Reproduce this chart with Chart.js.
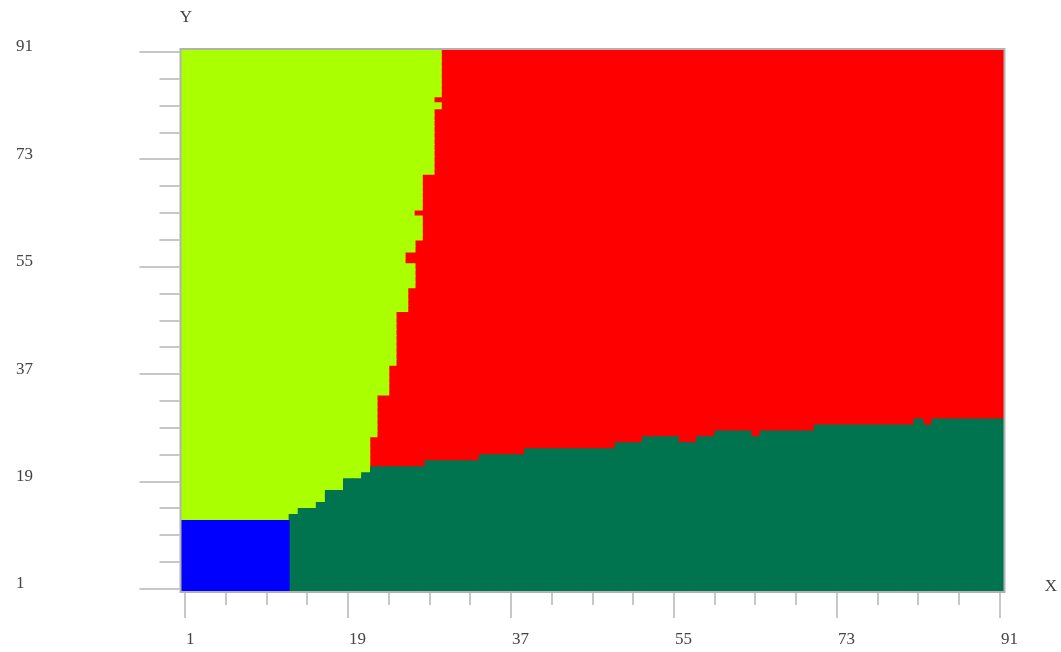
<!DOCTYPE html>
<html>
<head>
<meta charset="utf-8">
<script src="https://cdn.jsdelivr.net/npm/chart.js@4/dist/chart.umd.min.js"></script>
<style>
    html, body { margin: 0; padding: 0; background: #fff; }
    #chart-container { width: 1061px; height: 652px; }
</style>
</head>
<body>
<div id="chart-container"><canvas id="myChart" width="1061" height="652"></canvas></div>
<script>
const gridMax = 91;
const xTickLabels = [1, 19, 37, 55, 73, 91];
const yTickLabels = [1, 19, 37, 55, 73, 91];
const minorStep = 4.5;

// blue block in the corner: columns 1..12, rows 1..12
const blueColumns = [1, 2, 3, 4, 5, 6, 7, 8, 9, 10, 11, 12];
const blueTop = 12;

// top row of the dark green area for columns 13..91
const greenColumns = [];
for (let c = 13; c <= 91; c++) greenColumns.push(c);
const greenTop = [
    13, 14, 14, 15, 17, 17, 19, 19, 20,
    21, 21, 21, 21, 21, 21,
    22, 22, 22, 22, 22, 22,
    23, 23, 23, 23, 23,
    24, 24, 24, 24, 24, 24, 24, 24, 24, 24,
    25, 25, 25,
    26, 26, 26, 26,
    25, 25,
    26, 26,
    27, 27, 27, 27,
    26,
    27, 27, 27, 27, 27, 27,
    28, 28, 28, 28, 28, 28, 28, 28, 28, 28, 28,
    29,
    28,
    29, 29, 29, 29, 29, 29, 29, 29
];

// right edge of the light green area for rows 13..91
const limeRows = [];
for (let r = 13; r <= 91; r++) limeRows.push(r);
const limeEdge = [
    21.4, 21.4, 21.4, 21.4, 21.4, 21.4, 21.4, 21.4, 21.4, 21.4, 21.4, 21.4, 21.4, 21.4,
    22.2, 22.2, 22.2, 22.2, 22.2, 22.2, 22.2,
    23.5, 23.5, 23.5, 23.5, 23.5,
    24.3, 24.3, 24.3, 24.3, 24.3, 24.3, 24.3, 24.3, 24.3,
    25.6, 25.6, 25.6, 25.6,
    26.4, 26.4, 26.4, 26.4,
    25.3, 25.3,
    26.4, 26.4,
    27.2, 27.2, 27.2, 27.2,
    26.3,
    27.2, 27.2, 27.2, 27.2, 27.2, 27.2,
    28.5, 28.5, 28.5, 28.5, 28.5, 28.5, 28.5, 28.5, 28.5, 28.5, 28.5,
    29.3,
    28.5,
    29.3, 29.3, 29.3, 29.3, 29.3, 29.3, 29.3, 29.3
];

const allColumns = [];
for (let c = 1; c <= gridMax; c++) allColumns.push(c);

const lo = 0.5;
const hi = gridMax + 0.5;

const axisPlugin = {
    id: "axisPlugin",
    afterDraw: (chart) => {
        const ctx = chart.ctx;
        const xs = chart.scales.x;
        const ys = chart.scales.y;
        const area = chart.chartArea;

        ctx.save();
        ctx.strokeStyle = "#b2b2b2";
        ctx.lineWidth = 2;
        ctx.strokeRect(area.left, area.top, area.right - area.left, area.bottom - area.top);

        ctx.lineWidth = 1.5;
        ctx.strokeStyle = "#b4b4b4";
        for (let v = 1; v <= gridMax + 0.01; v += minorStep) {
            const major = xTickLabels.includes(v);
            const px = Math.round(xs.getPixelForValue(v));
            ctx.beginPath();
            ctx.moveTo(px, area.bottom + 1);
            ctx.lineTo(px, area.bottom + (major ? 26 : 13));
            ctx.stroke();

            const py = Math.round(ys.getPixelForValue(v));
            ctx.beginPath();
            ctx.moveTo(area.left - 1, py);
            ctx.lineTo(area.left - (major ? 41 : 21), py);
            ctx.stroke();
        }

        ctx.fillStyle = "#444";
        ctx.font = '17px "Liberation Serif"';
        ctx.textBaseline = "middle";
        ctx.textAlign = "left";
        xTickLabels.forEach((el) => {
            ctx.fillText(String(el), xs.getPixelForValue(el) + 1, 640);
        });
        yTickLabels.forEach((el) => {
            ctx.fillText(String(el), 16, ys.getPixelForValue(el) - 5);
        });

        ctx.textAlign = "center";
        ctx.fillText("Y", 186, 18);
        ctx.fillText("X", 1051, 587);
        ctx.restore();
    },
};

const hiddenAxis = (axis) => ({
    type: "linear",
    axis: axis,
    min: lo,
    max: hi,
    offset: false,
    grace: 0,
    display: false,
});

const drawChart = () => {
    const data = {
        datasets: [
            {
                label: "red",
                data: allColumns.map((c) => ({ x: c, y: [lo, hi] })),
                backgroundColor: "#ff0000",
                order: 4,
            },
            {
                label: "lime",
                indexAxis: "y",
                xAxisID: "xh",
                yAxisID: "yh",
                data: limeRows.map((r, i) => ({ y: r, x: [lo, limeEdge[i]] })),
                backgroundColor: "#aaff00",
                order: 3,
            },
            {
                label: "green",
                data: greenColumns.map((c, i) => ({ x: c, y: [lo, greenTop[i] + 0.5] })),
                backgroundColor: "#00734f",
                order: 2,
            },
            {
                label: "blue",
                data: blueColumns.map((c) => ({ x: c, y: [lo, blueTop + 0.5] })),
                backgroundColor: "#0000ff",
                order: 1,
            },
        ],
    };
    const config = {
        type: "bar",
        data: data,
        options: {
            responsive: false,
            animation: false,
            datasets: {
                bar: {
                    grouped: false,
                    barPercentage: 1,
                    categoryPercentage: 1,
                    borderWidth: 0,
                    inflateAmount: 0.5,
                },
            },
            layout: {
                padding: { left: 180.5, right: 56.5, top: 49, bottom: 60 },
            },
            plugins: {
                legend: { display: false },
                tooltip: { enabled: false },
            },
            scales: {
                x: hiddenAxis("x"),
                y: hiddenAxis("y"),
                xh: hiddenAxis("x"),
                yh: hiddenAxis("y"),
            },
        },
        plugins: [axisPlugin],
    };
    new Chart(document.getElementById("myChart"), config);
};

drawChart();
</script>
</body>
</html>
